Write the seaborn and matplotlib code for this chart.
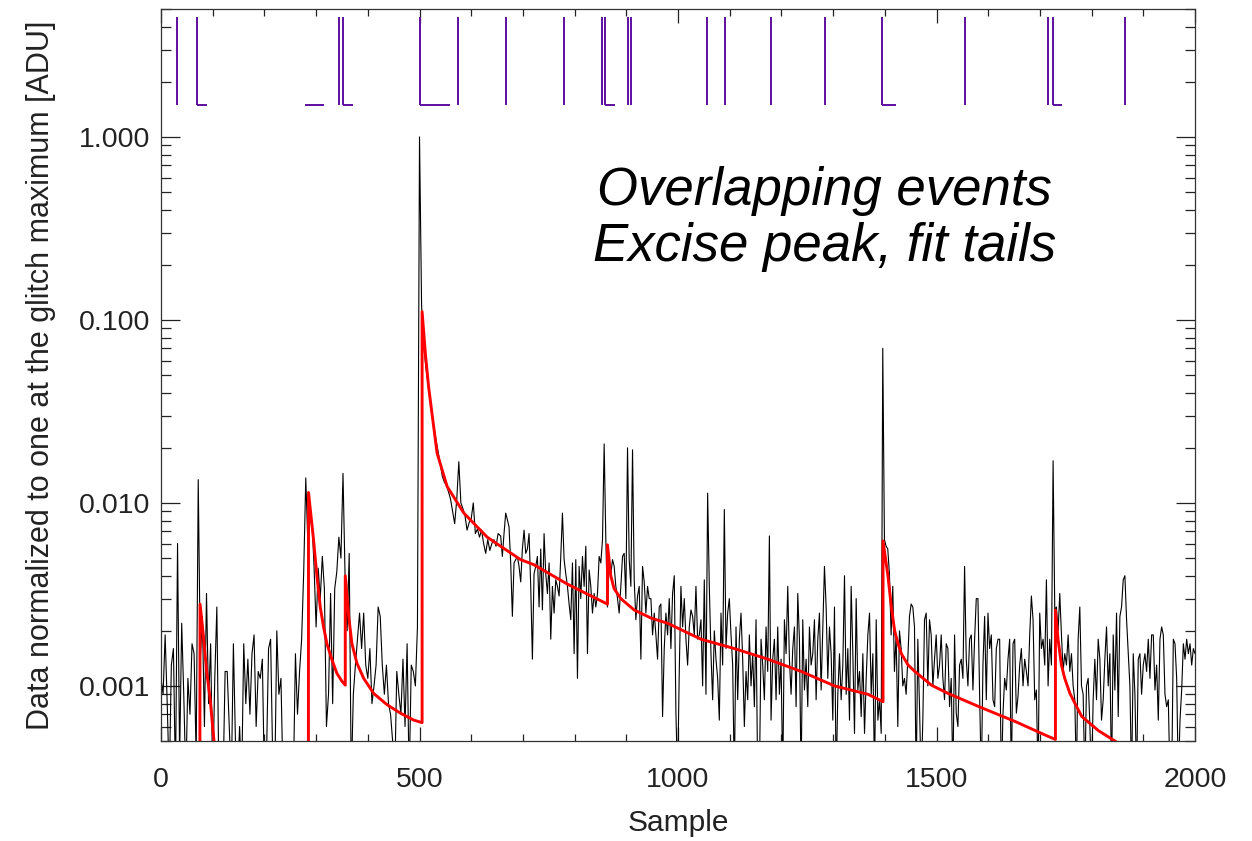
import numpy as np
import pandas as pd
import matplotlib
matplotlib.use("Agg")
import matplotlib.pyplot as plt
from matplotlib.ticker import MultipleLocator, LogLocator, NullFormatter
import seaborn as sns

# black trace, samples 0..652 every 4 samples
black_a = [0.0011, 0.0009, 0.0019, 0.0008, 0.0003, 0.0013, 0.0016, 0.0003, 0.0060, 0.0004,
           0.0022, 0.0009, 0.0003, 0.0011, 0.0007, 0.0017, 0.0015, 0.0004, 0.0134, 0.0014,
           0.0024, 0.0006, 0.0032, 0.0008, 0.0017, 0.0003, 0.0011, 0.0027, 0.0003, 0.0003,
           0.0003, 0.0012, 0.0012, 0.0006, 0.0003, 0.0017, 0.0005, 0.0003, 0.0006, 0.0003,
           0.0017, 0.0008, 0.0014, 0.0007, 0.0015, 0.0019, 0.0006, 0.0012, 0.0011, 0.0014,
           0.0003, 0.0004, 0.0016, 0.0018, 0.0004, 0.0003, 0.0020, 0.0009, 0.0011, 0.0003,
           0.0003, 0.0003, 0.0003, 0.0003, 0.0003, 0.0015, 0.0007, 0.0012, 0.0018, 0.0042,
           0.0137, 0.0060, 0.0079, 0.0080, 0.0045, 0.0021, 0.0044, 0.0030, 0.0051, 0.0034,
           0.0006, 0.0009, 0.0032, 0.0008, 0.0034, 0.0042, 0.0065,
           0.0050, 0.0145, 0.0040, 0.0020, 0.0053, 0.0003, 0.0009, 0.0013, 0.0018, 0.0025,
           0.0016, 0.0025, 0.0013, 0.0011, 0.0016, 0.0008, 0.0010, 0.0013, 0.0027, 0.0024,
           0.0013, 0.0009, 0.0013, 0.0008, 0.0007, 0.0005, 0.0003, 0.0012, 0.0009, 0.0007,
           0.0014, 0.0006, 0.0017, 0.0003, 0.0013, 0.0012, 0.0010, 0.0021, 1.0,
           0.12, 0.075, 0.056, 0.046, 0.037, 0.030, 0.026, 0.022, 0.019, 0.0165,
           0.0140, 0.0130, 0.0125, 0.0115, 0.0105, 0.0090, 0.0077, 0.0104, 0.0168, 0.0100,
           0.0093, 0.0085, 0.0071, 0.0078, 0.0082, 0.0100, 0.0068, 0.0072, 0.0065, 0.0071,
           0.0060, 0.0053, 0.0063, 0.0055, 0.0060, 0.0063, 0.0058, 0.0068]

# black trace, samples 657..1393
black_d = [0.0066, 0.0051, 0.0068, 0.0088, 0.0081, 0.0074, 0.0047, 0.0024, 0.0047, 0.0049,
           0.0051, 0.0045, 0.0037, 0.0056, 0.0071, 0.0053, 0.0056, 0.0068, 0.0035, 0.0014,
           0.0041, 0.0045, 0.0051, 0.0027, 0.0056, 0.0026, 0.0068, 0.0041, 0.0032, 0.0047,
           0.0018, 0.0035, 0.0025, 0.0038, 0.0035, 0.0031, 0.0051, 0.0088, 0.0049, 0.0041,
           0.0035, 0.0028, 0.0023, 0.0047, 0.0015, 0.0049, 0.0011, 0.0045, 0.0030, 0.0051,
           0.0035, 0.0058, 0.0015, 0.0043, 0.0035, 0.0025, 0.0032, 0.0027, 0.0032, 0.0051,
           0.0047, 0.0063, 0.021, 0.0063, 0.0027, 0.0047, 0.0041, 0.0049, 0.0045, 0.0035,
           0.0030, 0.0025, 0.0035, 0.0051, 0.0053, 0.0030, 0.020, 0.0049, 0.0035, 0.0195,
           0.0038, 0.0023, 0.0031, 0.0035, 0.0014, 0.0045, 0.0037, 0.0025, 0.0035, 0.0030,
           0.0030, 0.0019, 0.0025, 0.0019, 0.0014, 0.0027, 0.0028, 0.00068, 0.0016, 0.0025,
           0.0019, 0.0030, 0.0016, 0.0032, 0.0040, 0.00071, 0.0003, 0.0012, 0.0035, 0.0021,
           0.0030, 0.0018, 0.0013, 0.0021, 0.0026, 0.0024, 0.0019, 0.0035, 0.0018, 0.0019,
           0.0023, 0.0010, 0.0038, 0.0009, 0.0113, 0.0035, 0.0015, 0.00084, 0.0020, 0.0014,
           0.0011, 0.00065, 0.0025, 0.0013, 0.0092, 0.0016, 0.0025, 0.0030, 0.0019, 0.0013,
           0.0003, 0.0021, 0.00084, 0.0018, 0.0025, 0.0014, 0.0006, 0.0012, 0.00084, 0.0019,
           0.0010, 0.0015, 0.00077, 0.0023, 0.0003, 0.0003, 0.0018, 0.0013, 0.00084, 0.0021,
           0.0012, 0.0066, 0.00065, 0.0014, 0.0018, 0.00084, 0.0021, 0.0009, 0.0014, 0.0003,
           0.0023, 0.0015, 0.0035, 0.0014, 0.0009, 0.0016, 0.0021, 0.00077, 0.0032, 0.0018,
           0.0003, 0.0023, 0.00095, 0.0014, 0.00077, 0.0021, 0.0013, 0.0015, 0.0023, 0.00084,
           0.0018, 0.0025, 0.00095, 0.0021, 0.0045, 0.0027, 0.0011, 0.0021, 0.0015, 0.00065,
           0.0027, 0.0003, 0.0009, 0.0015, 0.00084, 0.0013, 0.0040, 0.0009, 0.0016, 0.00065,
           0.0035, 0.0015, 0.00055, 0.0030, 0.00095, 0.0012, 0.00068, 0.0015, 0.00055, 0.0011,
           0.0019, 0.0025, 0.0009, 0.0015, 0.0003, 0.0023, 0.00065, 0.00084, 0.00055]

# black trace, samples 1396..2000
black_e = [0.070, 0.0063, 0.0058, 0.0056, 0.0041, 0.0019, 0.0035, 0.0012, 0.0019, 0.0006,
           0.0020, 0.0016, 0.0010, 0.0011, 0.0009, 0.0014, 0.0024, 0.0028, 0.0027, 0.0021,
           0.0003, 0.0018, 0.00077, 0.0003, 0.00065, 0.0023, 0.0025, 0.0010, 0.0023, 0.0019,
           0.0010, 0.0014, 0.0019, 0.0011, 0.0013, 0.0019, 0.0011, 0.00084, 0.0017, 0.0016,
           0.00077, 0.0011, 0.0003, 0.0019, 0.00071, 0.0006, 0.0013, 0.0014, 0.0011, 0.0045,
           0.0014, 0.0010, 0.0018, 0.0019, 0.00095, 0.0018, 0.0030, 0.0030, 0.0009, 0.0003,
           0.0013, 0.0024, 0.00084, 0.0025, 0.0016, 0.0019, 0.00084, 0.00077, 0.0016, 0.0018,
           0.0018, 0.0003, 0.00071, 0.0011, 0.00095, 0.0014, 0.0018, 0.0003, 0.0017, 0.0018,
           0.00071, 0.00088, 0.0013, 0.0016, 0.0010, 0.0014, 0.0012, 0.0010, 0.0019, 0.0031,
           0.0023, 0.00084, 0.00095, 0.0003, 0.0025, 0.0016, 0.0018, 0.0013, 0.0038, 0.0010,
           0.0018, 0.0013, 0.017, 0.0026, 0.0027, 0.0020, 0.0032, 0.0019, 0.0012, 0.0015,
           0.0013, 0.0019, 0.0012, 0.0015, 0.0010, 0.00084, 0.0003, 0.0018, 0.0027, 0.0010,
           0.0009, 0.0003, 0.0010, 0.0011, 0.00062, 0.0003, 0.00084, 0.0014, 0.00084, 0.0018,
           0.0014, 0.00065, 0.00084, 0.0014, 0.0021, 0.0010, 0.0015, 0.0003, 0.0019, 0.00095,
           0.0025, 0.00068, 0.0024, 0.0027, 0.0038, 0.0040, 0.0023, 0.0015, 0.0010, 0.0003,
           0.0015, 0.0009, 0.0003, 0.0014, 0.0015, 0.0009, 0.0013, 0.0015, 0.0012, 0.0018,
           0.0011, 0.0019, 0.0019, 0.00095, 0.0013, 0.00065, 0.0018, 0.0021, 0.0019, 0.0009,
           0.00077, 0.00084, 0.0003, 0.0003, 0.0018, 0.0017, 0.0011, 0.0003, 0.00065, 0.00095,
           0.0017, 0.0014, 0.0018, 0.0015, 0.0017, 0.0013, 0.0016, 0.0015]

# red fitted tails
red_x = [75, 75.5, 81.8, 88.3, 95, 102.5, 104,
         285, 285.3, 295, 301.5, 308, 314.4, 320.9, 330.6, 340.3, 350, 356.4,
         356.4, 363, 369.3, 379, 392, 411.3, 437, 463, 489, 505,
         505, 511.2, 517.6, 524, 534, 553.4, 585.7, 630.9, 656.8, 695.5, 721, 786, 863.5,
         863.5, 869.9, 876.4, 889.3, 915.2, 947.5, 979.8, 1044.4, 1109, 1173.6, 1238.2,
         1302.8, 1367.4, 1396.5,
         1396.5, 1406, 1412.6, 1419, 1425.5, 1432, 1445, 1458, 1490, 1522.4, 1587, 1651.6,
         1716, 1730,
         1730, 1735, 1741.6, 1748, 1758, 1768, 1781, 1813, 1855]
red_y = [1e-4, 0.0028, 0.0019, 0.0012, 0.00085, 0.0005, 0.00046,
         1e-4, 0.0114, 0.0063, 0.0040, 0.0027, 0.0021, 0.0017, 0.00139, 0.00117, 0.00106, 0.00101,
         0.0040, 0.0024, 0.0017, 0.00133, 0.0011, 0.00091, 0.00079, 0.00071, 0.00065, 0.00063,
         0.111, 0.066, 0.043, 0.031, 0.0187, 0.0123, 0.0088, 0.0065, 0.0058, 0.0049, 0.0046,
         0.0036, 0.0028,
         0.0059, 0.0040, 0.0034, 0.0030, 0.0026, 0.00235, 0.0022, 0.0018, 0.0016, 0.0014,
         0.0012, 0.0010, 0.0009, 0.00082,
         0.0062, 0.0040, 0.0027, 0.0020, 0.0017, 0.0015, 0.0013, 0.0012, 0.00101, 0.00091,
         0.00076, 0.00064, 0.00053, 0.00051,
         0.0026, 0.0018, 0.0013, 0.0011, 0.00091, 0.0008, 0.00068, 0.00057, 0.00048]

# purple event flags
event_x = [31, 70, 345, 352, 500, 575, 668, 779, 852, 858, 904, 910, 1057, 1091,
           1179, 1285, 1395, 1556, 1715, 1726, 1865]
span_start = [70, 279, 352, 500, 858, 1395, 1726]
span_end = [89, 316, 371, 558, 878, 1421, 1742]
flag_low, flag_high = 1.5, 4.5

ytick_vals = [0.001, 0.01, 0.1, 1.0]
ytick_labels = ["0.001", "0.010", "0.100", "1.000"]

sns.set_theme(style="ticks")
plt.rcParams["font.family"] = ["Liberation Sans", "DejaVu Sans"]

x_black = np.concatenate([np.arange(len(black_a)) * 4,
                          np.linspace(657, 1393, len(black_d)),
                          np.linspace(1396, 2000, len(black_e))])
df_black = pd.DataFrame({"sample": x_black, "value": black_a + black_d + black_e})
df_red = pd.DataFrame({"sample": red_x, "value": red_y})

fig = plt.figure(figsize=(12.52, 8.41), dpi=100)
ax = fig.add_axes([0.1286, 0.1189, 0.8259, 0.8704])
ax.set_yscale("log")

sns.lineplot(data=df_black, x="sample", y="value", estimator=None, sort=False,
             color="black", lw=0.8, ax=ax, legend=False)
sns.lineplot(data=df_red, x="sample", y="value", estimator=None, sort=False,
             color="#ff0000", lw=2.1, ax=ax, legend=False)

purple = "#5e0ea0"
ax.vlines(event_x, flag_low, flag_high, color=purple, lw=1.4)
ax.hlines([flag_low] * len(span_start), span_start, span_end, color=purple, lw=1.4)

ax.set_xlim(0, 2000)
ax.set_ylim(5e-4, 5)

ax.xaxis.set_major_locator(MultipleLocator(500))
ax.xaxis.set_minor_locator(MultipleLocator(100))
ax.set_yticks(ytick_vals)
ax.set_yticklabels(ytick_labels)
ax.yaxis.set_minor_locator(LogLocator(base=10, subs=np.arange(2, 10)))
ax.yaxis.set_minor_formatter(NullFormatter())

ax.tick_params(axis="both", which="both", direction="in", top=True, right=True,
               colors="#222222", labelsize=20.5, width=0.9)
ax.tick_params(axis="x", which="major", length=10, pad=19)
ax.tick_params(axis="x", which="minor", length=5)
ax.tick_params(axis="y", which="major", length=14, pad=8)
ax.tick_params(axis="y", which="minor", length=7)
for s in ax.spines.values():
    s.set_color("#333333")
    s.set_linewidth(0.9)

ax.set_xlabel("Sample", fontsize=21.5, color="#222222", labelpad=11)
ax.set_ylabel("Data normalized to one at the glitch maximum [ADU]", fontsize=22,
              color="#222222", labelpad=16)

ax.text(0.642, 0.713, "Overlapping events\nExcise peak, fit tails", transform=ax.transAxes,
        ha="center", va="center", fontsize=38, style="italic", color="black",
        linespacing=1.15)

fig.savefig("out.png", dpi=100)
